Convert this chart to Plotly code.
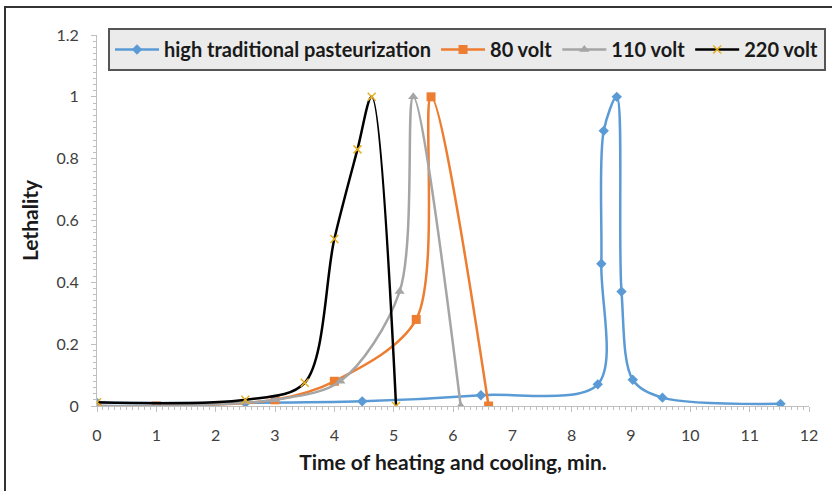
import plotly.graph_objects as go

# Lethality vs. time for conventional pasteurization and ohmic heating at three voltages
trad_time = [0, 2.5, 4.47, 6.47, 8.44, 8.5, 8.54, 8.76, 8.84, 9.03, 9.53, 11.52]
trad_leth = [0.01, 0.01, 0.015, 0.035, 0.07, 0.46, 0.89, 1.0, 0.37, 0.085, 0.027, 0.007]

v80_time = [0, 1, 3, 4.0, 5.38, 5.63, 6.6]
v80_leth = [0.0, 0.0, 0.02, 0.08, 0.28, 1.0, 0.0]

v110_time = [0, 1, 3, 4.1, 5.1, 5.33, 6.13]
v110_leth = [0.0, 0.0, 0.02, 0.08, 0.37, 1.0, 0.0]

v220_time = [0, 2.5, 3.5, 4.0, 4.39, 4.63, 5.04]
v220_leth = [0.012, 0.02, 0.075, 0.54, 0.83, 1.0, 0.0]

x_ticks = list(range(0, 13))
y_ticks = [0, 0.2, 0.4, 0.6, 0.8, 1.0, 1.2]
y_tick_text = ["0", "0.2", "0.4", "0.6", "0.8", "1", "1.2"]

W, H = 832, 491
ML, MR, MT, MB = 97, 23, 35, 85
PW, PH = W - ML - MR, H - MT - MB

def px_to_paper_x(px):
    return (px - ML) / PW

def px_to_paper_y(py):
    return (H - MB - py) / PH

fig = go.Figure()

series = [
    ("high traditional pasteurization", trad_time, trad_leth, "#5B9BD5",
     dict(symbol="diamond", size=8, color="#5B9BD5")),
    ("80 volt", v80_time, v80_leth, "#ED7D31",
     dict(symbol="square", size=9, color="#ED7D31")),
    ("110 volt", v110_time, v110_leth, "#A5A5A5",
     dict(symbol="triangle-up", size=9, color="#A5A5A5")),
    ("220 volt", v220_time, v220_leth, "#000000",
     dict(symbol="x-thin", size=8, color="#FFC000",
          line=dict(color="#E8B020", width=1.5))),
]

for name, xs, ys, col, mk in series:
    fig.add_trace(go.Scatter(
        x=xs, y=ys, name=name, mode="lines+markers",
        line=dict(color=col, width=2.5, shape="spline", smoothing=0.9),
        marker=mk,
    ))

font_family = "Lato, 'Open Sans', sans-serif"

fig.update_layout(
    width=W, height=H,
    margin=dict(l=ML, r=MR, t=MT, b=MB, autoexpand=False),
    paper_bgcolor="white", plot_bgcolor="white",
    font=dict(family=font_family, color="#404040"),
    showlegend=True,
    legend=dict(
        orientation="h",
        x=px_to_paper_x(826), y=px_to_paper_y(28),
        xanchor="right", yanchor="top",
        bgcolor="#EBEBEB", bordercolor="#555555", borderwidth=2,
        font=dict(size=20, color="#1a1a1a", family=font_family, weight="bold"),
        itemwidth=44, tracegroupgap=0,
    ),
    xaxis=dict(
        range=[0, 12], tickvals=x_ticks, ticktext=[str(t) for t in x_ticks],
        showgrid=False, zeroline=False,
        showline=True, linecolor="#BFBFBF", linewidth=1,
        ticks="outside", ticklen=5, tickcolor="#BFBFBF",
        minor=dict(dtick=0.1, ticks="outside", ticklen=3, tickcolor="#BFBFBF"),
        tickfont=dict(size=16, color="#404040"),
        ticklabelstandoff=10,
        title=dict(text="<b>Time of heating and cooling, min.</b>",
                   font=dict(size=21, color="#1a1a1a"), standoff=12),
    ),
    yaxis=dict(
        range=[0, 1.2], tickvals=y_ticks, ticktext=y_tick_text,
        showgrid=False, zeroline=False,
        showline=True, linecolor="#BFBFBF", linewidth=1,
        ticks="outside", ticklen=5, tickcolor="#BFBFBF",
        minor=dict(dtick=0.02, ticks="outside", ticklen=3, tickcolor="#BFBFBF"),
        tickfont=dict(size=16, color="#404040"),
        ticklabelstandoff=9,
        title=dict(text="<b>Lethality</b>",
                   font=dict(size=21, color="#1a1a1a"), standoff=12),
    ),
    shapes=[dict(
        type="rect", xref="paper", yref="paper",
        x0=px_to_paper_x(5), x1=px_to_paper_x(860),
        y0=px_to_paper_y(520), y1=px_to_paper_y(7),
        line=dict(color="#333333", width=2), fillcolor="rgba(0,0,0,0)",
        layer="below",
    )],
)

fig.write_html("out.html")
